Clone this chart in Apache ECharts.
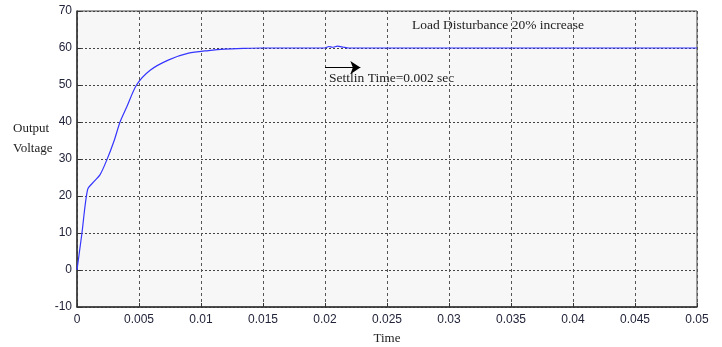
<!DOCTYPE html>
<html>
<head>
<meta charset="utf-8">
<script src="https://cdn.jsdelivr.net/npm/echarts@6/dist/echarts.min.js"></script>
<style>
  html, body { margin: 0; padding: 0; background: #fff; }
  #main { width: 722px; height: 347px; }
</style>
</head>
<body>
<div id="main"></div>
<script>
// step response: [time, voltage]
var timeVals = [0, 0.0004, 0.00086, 0.0014, 0.00185, 0.0024, 0.0030, 0.00347, 0.004, 0.0048, 0.0059, 0.0074, 0.009, 0.0106, 0.0119, 0.0135, 0.0149,
                0.0200, 0.0203, 0.0206, 0.0210, 0.0215, 0.0219, 0.05];
var voltVals = [0, 10, 21.8, 24, 25.7, 29.7, 35, 40, 44, 50, 54, 56.8, 58.6, 59.3, 59.7, 59.9, 60,
                60, 60.4, 60.2, 60.5, 60.2, 60, 60];
var yTicks = { min: -10, max: 70, step: 10 };
var xTicks = { min: 0, max: 0.05, step: 0.005 };
// settling-time arrow, in data units
var arrowFrom = [0.0200, 54.7];
var arrowTo = [0.02285, 54.7];

function renderStepChart() {
    var dom = document.getElementById("main");
    var myChart = echarts.init(dom);

    var serif = '"Liberation Serif", "DejaVu Serif", serif';
    var sans = '"Liberation Sans", Arial, sans-serif';

    var pts = timeVals.map(function(t, i) { return [t, voltVals[i]]; });

    var option = {
        backgroundColor: '#FFFFFF',
        animation: false,
        grid: {
            left: 77,
            right: 25,
            top: 11,
            bottom: 40,
            outerBoundsMode: 'none',
            show: true,
            backgroundColor: '#f7f7f7',
            borderColor: '#444',
            borderWidth: 1
        },
        xAxis: {
            type: 'value',
            min: xTicks.min,
            max: xTicks.max,
            interval: xTicks.step,
            name: 'Time',
            nameLocation: 'middle',
            nameGap: 25,
            nameTextStyle: { fontFamily: serif, fontSize: 13, color: '#222' },
            axisLine: { show: true, onZero: false, lineStyle: { color: '#333', width: 1.5 } },
            axisTick: { show: true, inside: true, length: 4, lineStyle: { color: '#333' } },
            axisLabel: {
                margin: 7,
                fontFamily: sans,
                fontSize: 12,
                color: '#22243a',
                formatter: function(v) { return String(+v.toFixed(3)); }
            },
            splitLine: { show: true, lineStyle: { color: '#555', type: [3, 3], width: 1 } }
        },
        yAxis: {
            type: 'value',
            min: yTicks.min,
            max: yTicks.max,
            interval: yTicks.step,
            axisLine: { show: true, onZero: false, lineStyle: { color: '#333', width: 1.5 } },
            axisTick: { show: true, inside: true, length: 4, lineStyle: { color: '#333' } },
            axisLabel: {
                margin: 5,
                fontFamily: sans,
                fontSize: 12,
                color: '#22243a'
            },
            splitLine: { show: true, lineStyle: { color: '#444', type: [2, 2], width: 1 } }
        },
        series: [{
            type: 'line',
            data: pts,
            showSymbol: false,
            smooth: 0.25,
            z: 5,
            lineStyle: { color: '#3535ff', width: 1.2 },
            markLine: {
                silent: true,
                symbol: ['none', 'arrow'],
                symbolSize: 10,
                label: { show: false },
                lineStyle: { color: '#000', type: 'solid', width: 1.2 },
                data: [[{ coord: arrowFrom }, { coord: arrowTo }]]
            }
        }],
        graphic: [
            {
                type: 'text', left: 412, top: 18,
                style: { text: 'Load Disturbance 20% increase', font: '13.5px ' + serif, fill: '#222' }
            },
            {
                type: 'text', left: 329, top: 71,
                style: { text: 'Settlin Time=0.002 sec', font: '13.5px ' + serif, fill: '#222' }
            },
            {
                type: 'text', left: 13, top: 119,
                style: { text: 'Output\nVoltage', font: '13px ' + serif, fill: '#222', lineHeight: 20 }
            }
        ]
    };

    if (option && typeof option === 'object') {
        myChart.setOption(option);
    }
}
renderStepChart();
</script>
</body>
</html>
